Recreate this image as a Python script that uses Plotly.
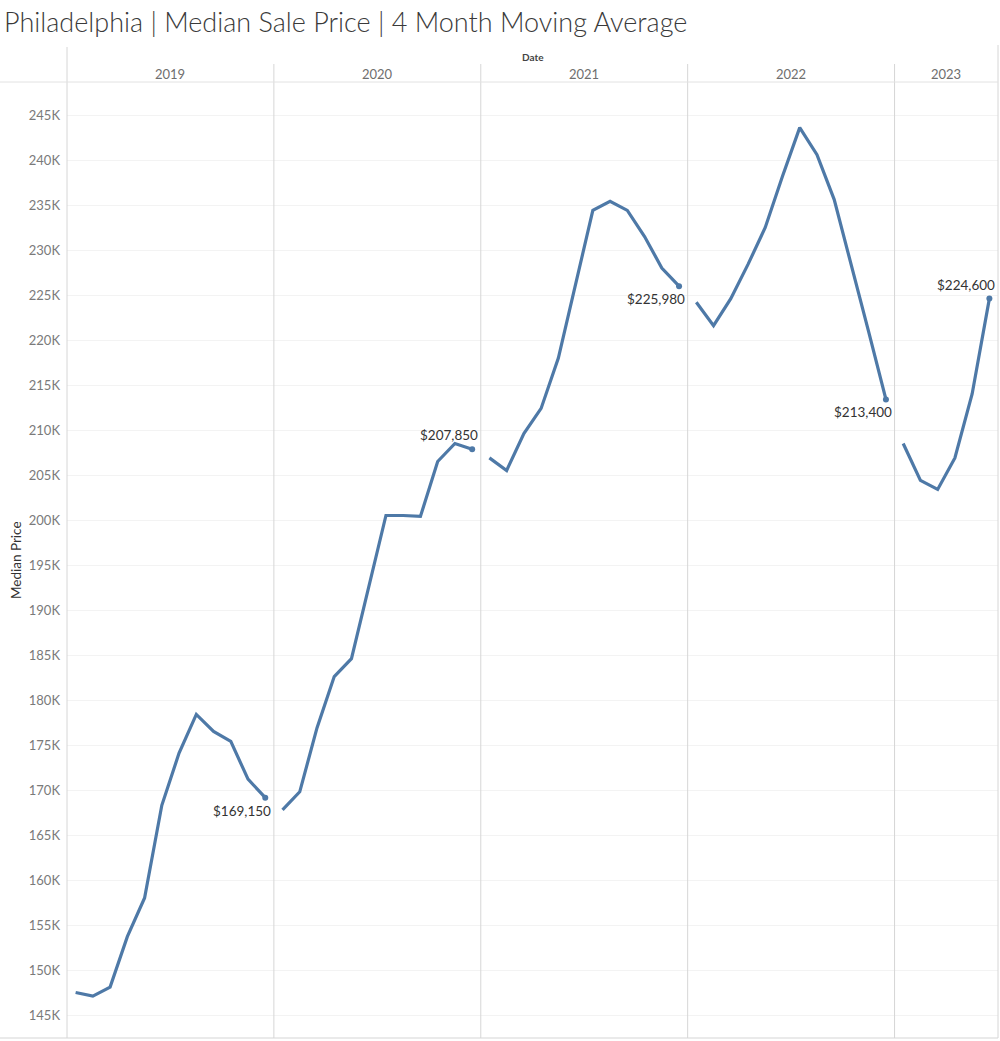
import plotly.graph_objects as go

# ---- data (USD, 4-month moving average of median sale price) ----
years = ["2019", "2020", "2021", "2022", "2023"]
months_per_year = [12, 12, 12, 12, 6]
price_2019 = [147500, 147100, 148100, 153700, 158000, 168300, 174100, 178400, 176500, 175400, 171200, 169150]
price_2020 = [167800, 169800, 176900, 182600, 184600, 192600, 200500, 200500, 200400, 206500, 208500, 207850]
price_2021 = [206900, 205500, 209600, 212400, 218000, 226100, 234400, 235400, 234400, 231500, 228000, 225980]
price_2022 = [224200, 221600, 224600, 228400, 232500, 238200, 243600, 240600, 235600, 228400, 220900, 213400]
price_2023 = [208500, 204400, 203400, 206900, 214000, 224600]
series = [price_2019, price_2020, price_2021, price_2022, price_2023]
tick_values = list(range(145000, 245001, 5000))
tick_labels = [f"{v // 1000}K" for v in tick_values]

# ---- geometry / style ----
W, H = 1000, 1041
ML, MR, MT, MB = 67, 2, 82, 3
PW, PH = W - ML - MR, H - MT - MB
LINE = "#4e79a7"
FONT = "Lato, Open Sans, sans-serif"
label_side = ["below", "above", "below", "below", "above"]


def py(px):  # pixel y (from top) -> paper y
    return (H - MB - px) / PH


def pxx(px):  # pixel x -> paper x
    return (px - ML) / PW


fig = go.Figure()
starts = []
s = 0
for n in months_per_year:
    starts.append(s)
    s += n
total = s

annotations = []
for yi, (yr, vals, st) in enumerate(zip(years, series, starts)):
    xs = [st + i + 0.5 for i in range(len(vals))]
    fig.add_trace(go.Scatter(x=xs, y=vals, mode="lines",
                             line=dict(color=LINE, width=3.2), hoverinfo="skip",
                             showlegend=False))
    fig.add_trace(go.Scatter(x=[xs[-1]], y=[vals[-1]], mode="markers",
                             marker=dict(color=LINE, size=6), hoverinfo="skip",
                             showlegend=False))
    annotations.append(dict(x=xs[-1], y=vals[-1], xref="x", yref="y",
                            text=f"${vals[-1]:,}", showarrow=False,
                            xanchor="right", yanchor="middle", xshift=8,
                            yshift=(-13 if label_side[yi] == "below" else 14),
                            font=dict(family=FONT, size=13.5, color="#333333")))
    annotations.append(dict(x=st + len(vals) / 2, y=py(74), xref="x", yref="paper",
                            text=yr, showarrow=False, xanchor="center", yanchor="middle",
                            font=dict(family=FONT, size=13, color="#6e6e6e")))

annotations.append(dict(x=0.5, y=py(57), xref="paper", yref="paper", text="<b>Date</b>",
                        showarrow=False, xanchor="center", yanchor="middle",
                        font=dict(family=FONT, size=10, color="#444444")))
annotations.append(dict(x=pxx(16), y=py(560), xref="paper", yref="paper", text="Median Price",
                        showarrow=False, textangle=-90, xanchor="center", yanchor="middle",
                        font=dict(family=FONT, size=13.5, color="#333333")))

shapes = []
for st in starts[1:]:
    shapes.append(dict(type="line", xref="x", yref="paper", x0=st, x1=st, y0=0, y1=py(64),
                       line=dict(color="#d6d6d6", width=1)))
shapes.append(dict(type="line", xref="paper", yref="paper", x0=0, x1=0, y0=0, y1=py(47),
                   line=dict(color="#d6d6d6", width=1)))
shapes.append(dict(type="line", xref="paper", yref="paper", x0=1, x1=1, y0=0, y1=py(45),
                   line=dict(color="#d6d6d6", width=1)))
shapes.append(dict(type="line", xref="paper", yref="paper", x0=pxx(0), x1=1, y0=1, y1=1,
                   line=dict(color="#e2e2e2", width=1)))
shapes.append(dict(type="line", xref="paper", yref="paper", x0=pxx(0), x1=1, y0=0, y1=0,
                   line=dict(color="#d6d6d6", width=1.2)))

y0 = 245000 - (1038 - 115) / 9 * 1000
y1 = 245000 + (115 - 82) / 9 * 1000

fig.update_layout(
    width=W, height=H,
    margin=dict(l=ML, r=MR, t=MT, b=MB),
    paper_bgcolor="white", plot_bgcolor="white",
    title=dict(text="Philadelphia | Median Sale Price | 4 Month Moving Average",
               x=4 / W, xref="container", xanchor="left",
               y=1 - 23 / H, yref="container", yanchor="middle",
               font=dict(family=FONT, size=27, color="#3a3a3a", weight=300)),
    xaxis=dict(range=[0, total], showgrid=False, zeroline=False, showticklabels=False,
               showline=False, fixedrange=True),
    yaxis=dict(range=[y0, y1], tickvals=tick_values, ticktext=tick_labels,
               showgrid=True, gridcolor="#f3f3f3", gridwidth=1, zeroline=False,
               showline=False, ticks="", ticklabelstandoff=6,
               tickfont=dict(family=FONT, size=13, color="#7a7a7a")),
    annotations=annotations,
    shapes=shapes,
)

fig.write_html("out.html")
